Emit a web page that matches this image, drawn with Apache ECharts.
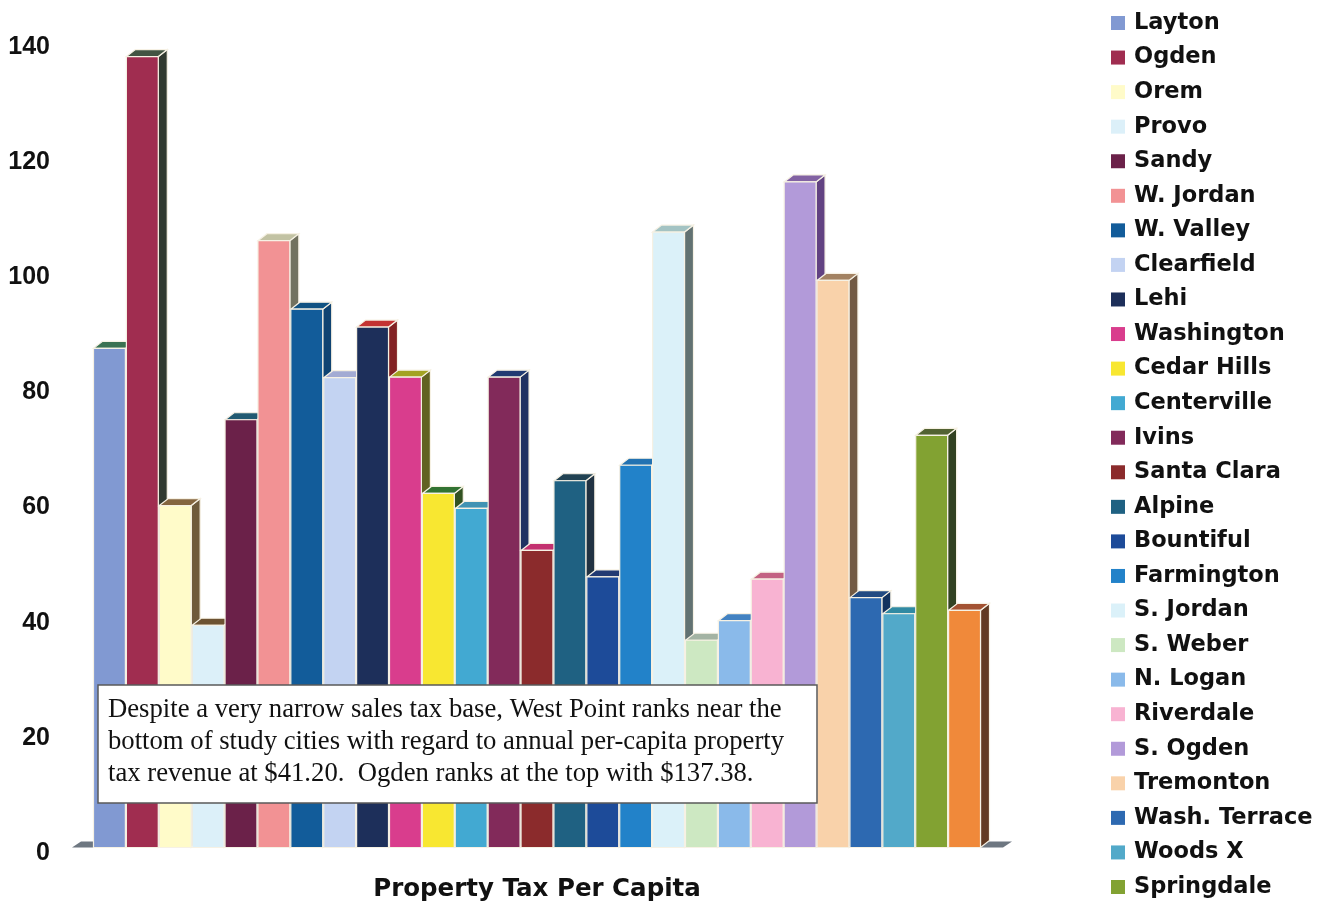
<!DOCTYPE html>
<html>
<head>
<meta charset="utf-8">
<title>Property Tax Per Capita</title>
<script src="https://cdn.jsdelivr.net/npm/echarts@6/dist/echarts.min.js"></script>
<style>
  html, body { margin: 0; padding: 0; background: #ffffff; }
  #chart { width: 1327px; height: 904px; }
</style>
</head>
<body>
<div id="chart"></div>
<script>
// Study cities, in plotting order (West Point is the last bar)
const cities = [
  'Layton', 'Ogden', 'Orem', 'Provo', 'Sandy', 'W. Jordan', 'W. Valley',
  'Clearfield', 'Lehi', 'Washington', 'Cedar Hills', 'Centerville', 'Ivins',
  'Santa Clara', 'Alpine', 'Bountiful', 'Farmington', 'S. Jordan', 'S. Weber',
  'N. Logan', 'Riverdale', 'S. Ogden', 'Tremonton', 'Wash. Terrace',
  'Woods X', 'Springdale', 'West Point'
];

// Annual property tax revenue per capita ($)
const taxPerCapita = [
  86.7, 137.38, 59.4, 38.6, 74.3, 105.4, 93.5,
  81.6, 90.4, 81.7, 61.5, 58.9, 81.7,
  51.6, 63.7, 47.0, 66.4, 106.9, 36.0,
  39.4, 46.6, 115.6, 98.5, 43.4,
  40.6, 71.6, 41.20
];

// Names listed in the legend column
const legendNames = cities.slice(0, 26);

// Value axis range
const yMin = 0;
const yMax = 140;
const yStep = 20;

// Note box text
const noteText = 'Despite a very narrow sales tax base, West Point ranks near the\n' +
  'bottom of study cities with regard to annual per-capita property\n' +
  'tax revenue at $41.20.  Ogden ranks at the top with $137.38.';

// Face colours of each 3-D column: front, top, right side
const frontColors = [
  '#8199d2', '#a02d50', '#fffbc9', '#dcf0f9', '#6b2149', '#f29294', '#125c9a',
  '#c3d3f2', '#1d2f5a', '#d93d8d', '#f8e731', '#42a9d2', '#822a5a',
  '#8b2b2c', '#1f6182', '#1d4b99', '#2282c9', '#dbf1f9', '#cde8c2',
  '#8abaea', '#f8b3d2', '#b29ad9', '#f9d2aa', '#2d69b1',
  '#52a9c9', '#82a232', '#f0893a'
];
const topColors = [
  '#3b7252', '#425443', '#84653f', '#6c5232', '#215a72', '#c2c2a3', '#115383',
  '#a3abd3', '#c33232', '#a3a323', '#327332', '#4193b3', '#213a72',
  '#c3316f', '#214253', '#223a72', '#2272b2', '#a3c3c3', '#a3b3a3',
  '#4282c2', '#c36282', '#8262a3', '#a38262', '#214a82',
  '#318aa3', '#526232', '#a35232'
];
const sideColors = [
  '#2c5a3e', '#313a31', '#6e5a3c', '#5a4428', '#1a4658', '#72725f', '#0f4372',
  '#7d86aa', '#822222', '#626222', '#325222', '#2f6f88', '#213262',
  '#8d2a52', '#213242', '#1c2e5c', '#1a5a90', '#627272', '#7a8a7a',
  '#33669a', '#9a4a66', '#624282', '#725a44', '#12325f',
  '#286e82', '#324222', '#623a22'
];

const DEPTH_X = 9;
const DEPTH_Y = -7;
const WIDE_FONT = 'DejaVu Sans, Verdana, sans-serif';

// One 3-D column: front face, top face and right side face
function renderColumn(params, api) {
  const idx = api.value(0);
  const val = api.value(1);
  const base = api.coord([idx, 0]);
  const top = api.coord([idx, val]);
  const band = api.size([1, 0])[0];
  const x0 = base[0] - band / 2 + 0.5;
  const x1 = x0 + band - 1;
  const y0 = base[1];
  const y1 = top[1];
  const c = params.seriesIndex - 1;
  const edge = { stroke: '#f6f1e4', lineWidth: 1.2 };
  return {
    type: 'group',
    children: [
      {
        type: 'polygon',
        shape: { points: [[x1, y1], [x1 + DEPTH_X, y1 + DEPTH_Y], [x1 + DEPTH_X, y0 + DEPTH_Y], [x1, y0]] },
        style: Object.assign({ fill: sideColors[c] }, edge)
      },
      {
        type: 'polygon',
        shape: { points: [[x0, y1], [x0 + DEPTH_X, y1 + DEPTH_Y], [x1 + DEPTH_X, y1 + DEPTH_Y], [x1, y1]] },
        style: Object.assign({ fill: topColors[c] }, edge)
      },
      {
        type: 'rect',
        shape: { x: x0, y: y1, width: x1 - x0, height: y0 - y1 },
        style: Object.assign({ fill: frontColors[c] }, edge)
      }
    ]
  };
}

// Thin floor plate under the row of columns
function renderFloor(params, api) {
  const cs = params.coordSys;
  const y0 = api.coord([0, 0])[1];
  const left = cs.x - 21;
  const right = cs.x + cs.width + 22;
  return {
    type: 'polygon',
    shape: { points: [[left, y0], [right, y0], [right + DEPTH_X, y0 - 6], [left + DEPTH_X, y0 - 6]] },
    style: { fill: '#6e7781' }
  };
}

const series = [{
  type: 'custom',
  name: '__floor',
  renderItem: renderFloor,
  data: [[0, 0]],
  silent: true
}];
cities.forEach(function (name, i) {
  series.push({
    type: 'custom',
    name: name,
    renderItem: renderColumn,
    itemStyle: { color: frontColors[i] },
    data: [[i, taxPerCapita[i]]]
  });
});

const chart = echarts.init(document.getElementById('chart'), null, { renderer: 'canvas' });
chart.setOption({
  backgroundColor: '#ffffff',
  animation: false,
  grid: { left: 93, right: 346, top: 41.5, bottom: 56.5, containLabel: false, outerBoundsMode: 'none' },
  xAxis: {
    type: 'category',
    data: cities,
    axisLine: { show: false },
    axisTick: { show: false },
    axisLabel: { show: false },
    name: 'Property Tax Per Capita',
    nameLocation: 'middle',
    nameGap: 30,
    nameTextStyle: {
      fontFamily: WIDE_FONT,
      fontWeight: 'bold',
      fontSize: 24.5,
      color: '#111111'
    }
  },
  yAxis: {
    type: 'value',
    min: yMin,
    max: yMax,
    interval: yStep,
    axisLine: { show: false },
    axisTick: { show: false },
    splitLine: { show: false },
    axisLabel: {
      margin: 43,
      fontFamily: 'Liberation Sans, Arial, sans-serif',
      fontWeight: 'bold',
      fontSize: 25,
      color: '#111111',
      verticalAlign: 'top',
      lineHeight: 11
    }
  },
  legend: {
    data: legendNames,
    orient: 'vertical',
    left: 1111,
    top: 11,
    padding: 0,
    icon: 'rect',
    itemWidth: 14,
    itemHeight: 14,
    itemGap: 10.56,
    selectedMode: false,
    textStyle: {
      fontFamily: WIDE_FONT,
      fontWeight: 'bold',
      fontSize: 22.5,
      lineHeight: 24,
      color: '#111111',
      padding: [0, 0, 0, 4]
    }
  },
  graphic: [
    {
      type: 'rect',
      x: 98,
      y: 685,
      z: 100,
      shape: { x: 0, y: 0, width: 719, height: 118 },
      style: { fill: '#ffffff', stroke: '#5a5a5a', lineWidth: 1.5 }
    },
    {
      type: 'text',
      x: 108,
      y: 694,
      z: 101,
      style: {
        text: noteText,
        fontFamily: 'Liberation Serif, Times New Roman, serif',
        fontSize: 26.7,
        lineHeight: 32,
        fill: '#111111'
      }
    }
  ],
  series: series
});
</script>
</body>
</html>
